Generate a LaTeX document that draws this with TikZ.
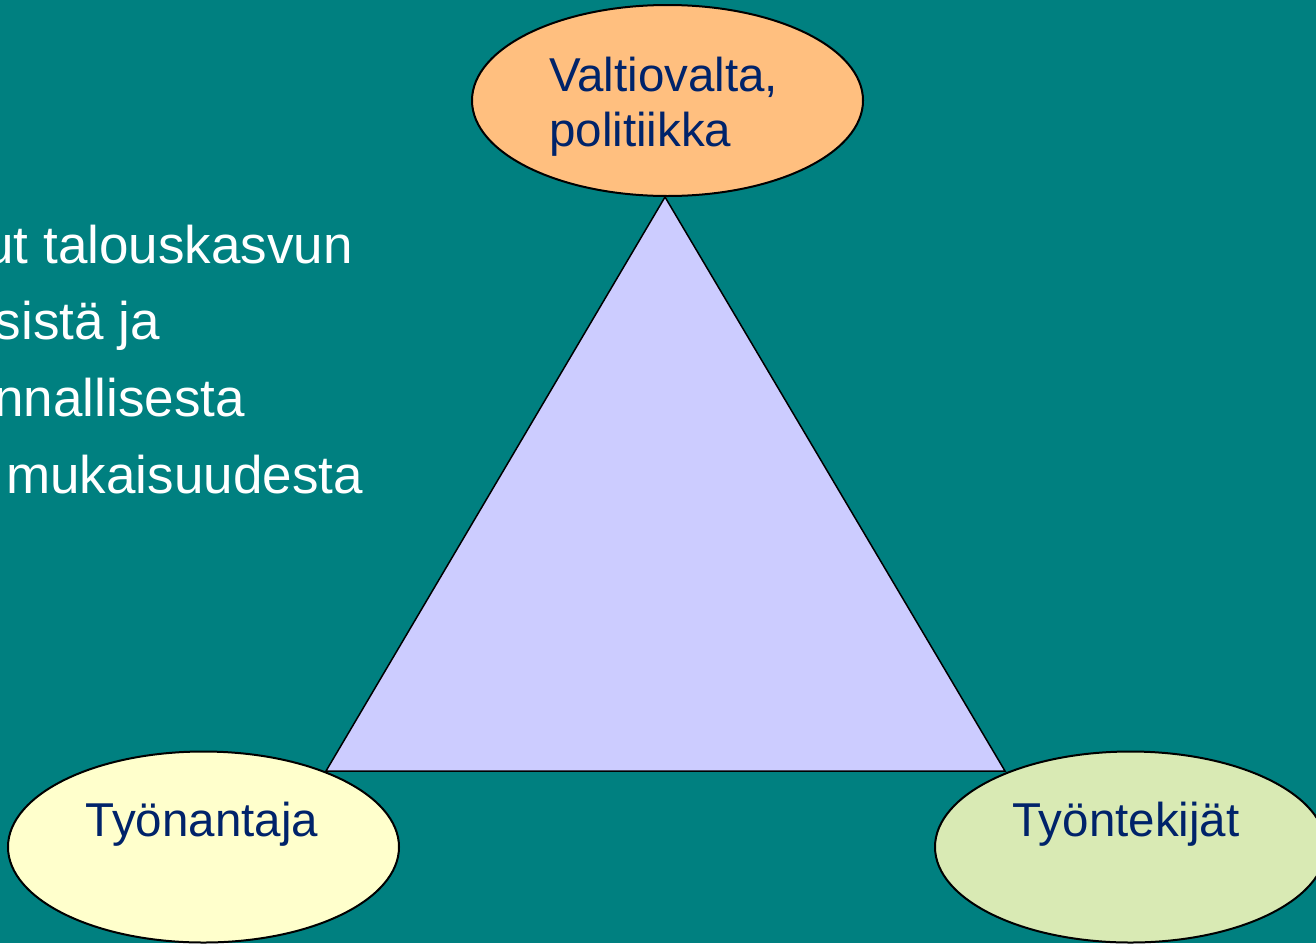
\documentclass[tikz,border=0pt]{standalone}
\usepackage{fontspec}
\setmainfont{Liberation Sans}
\usetikzlibrary{shapes.geometric}
\definecolor{bgteal}{HTML}{008080}
\definecolor{trifill}{HTML}{CCCCFF}
\definecolor{orangefill}{HTML}{FFBF7F}
\definecolor{yellowfill}{HTML}{FFFFCC}
\definecolor{greenfill}{HTML}{D9EAB4}
\definecolor{navytext}{HTML}{00236A}
\tikzset{
  blob/.style={ellipse, draw=black, line width=2pt, minimum width=391pt, minimum height=191pt, inner sep=0pt},
  tri/.style={fill=trifill, draw=black, line width=1.5pt, line join=miter},
  lbl/.style={text=navytext, inner sep=0pt, font=\fontsize{47.5}{55}\selectfont},
  side/.style={text=white, inner sep=0pt, anchor=base east, font=\fontsize{53}{77}\selectfont}
}
\begin{document}
\begin{tikzpicture}[x=1pt, y=-1pt]
\useasboundingbox (0,0) rectangle (1316,943);
\clip (0,0) rectangle (1316,943);
\fill[bgteal] (0,0) rectangle (1316,943);
% left text (cut off by the picture's left edge)
\node[side] (t1) at (353,263) {ut talouskasvun};
\node[side] (t2) at (160,339.5) {sistä ja};
\node[side] (t3) at (245,416) {nnallisesta};
\node[side] (t4) at (363,493) {mukaisuudesta};
% triangle
\coordinate (A) at (665,197);
\coordinate (B) at (326,771);
\coordinate (C) at (1005,771);
\draw[tri] (A) -- (B) -- (C) -- cycle;
% ellipses
\node[blob, fill=orangefill] (top) at (667.5,100.5) {};
\node[blob, fill=yellowfill] (left) at (203.5,847) {};
\node[blob, fill=greenfill] (right) at (1130.5,847) {};
% labels
\node[lbl, anchor=base west] (top1) at (549,91) {Valtiovalta,};
\node[lbl, anchor=base west] (top2) at (549,146) {politiikka};
\node[lbl, anchor=base] (leftl) at (202,836) {Työnantaja};
\node[lbl, anchor=base] (rightl) at (1126,836) {Työntekijät};
\end{tikzpicture}
\end{document}
